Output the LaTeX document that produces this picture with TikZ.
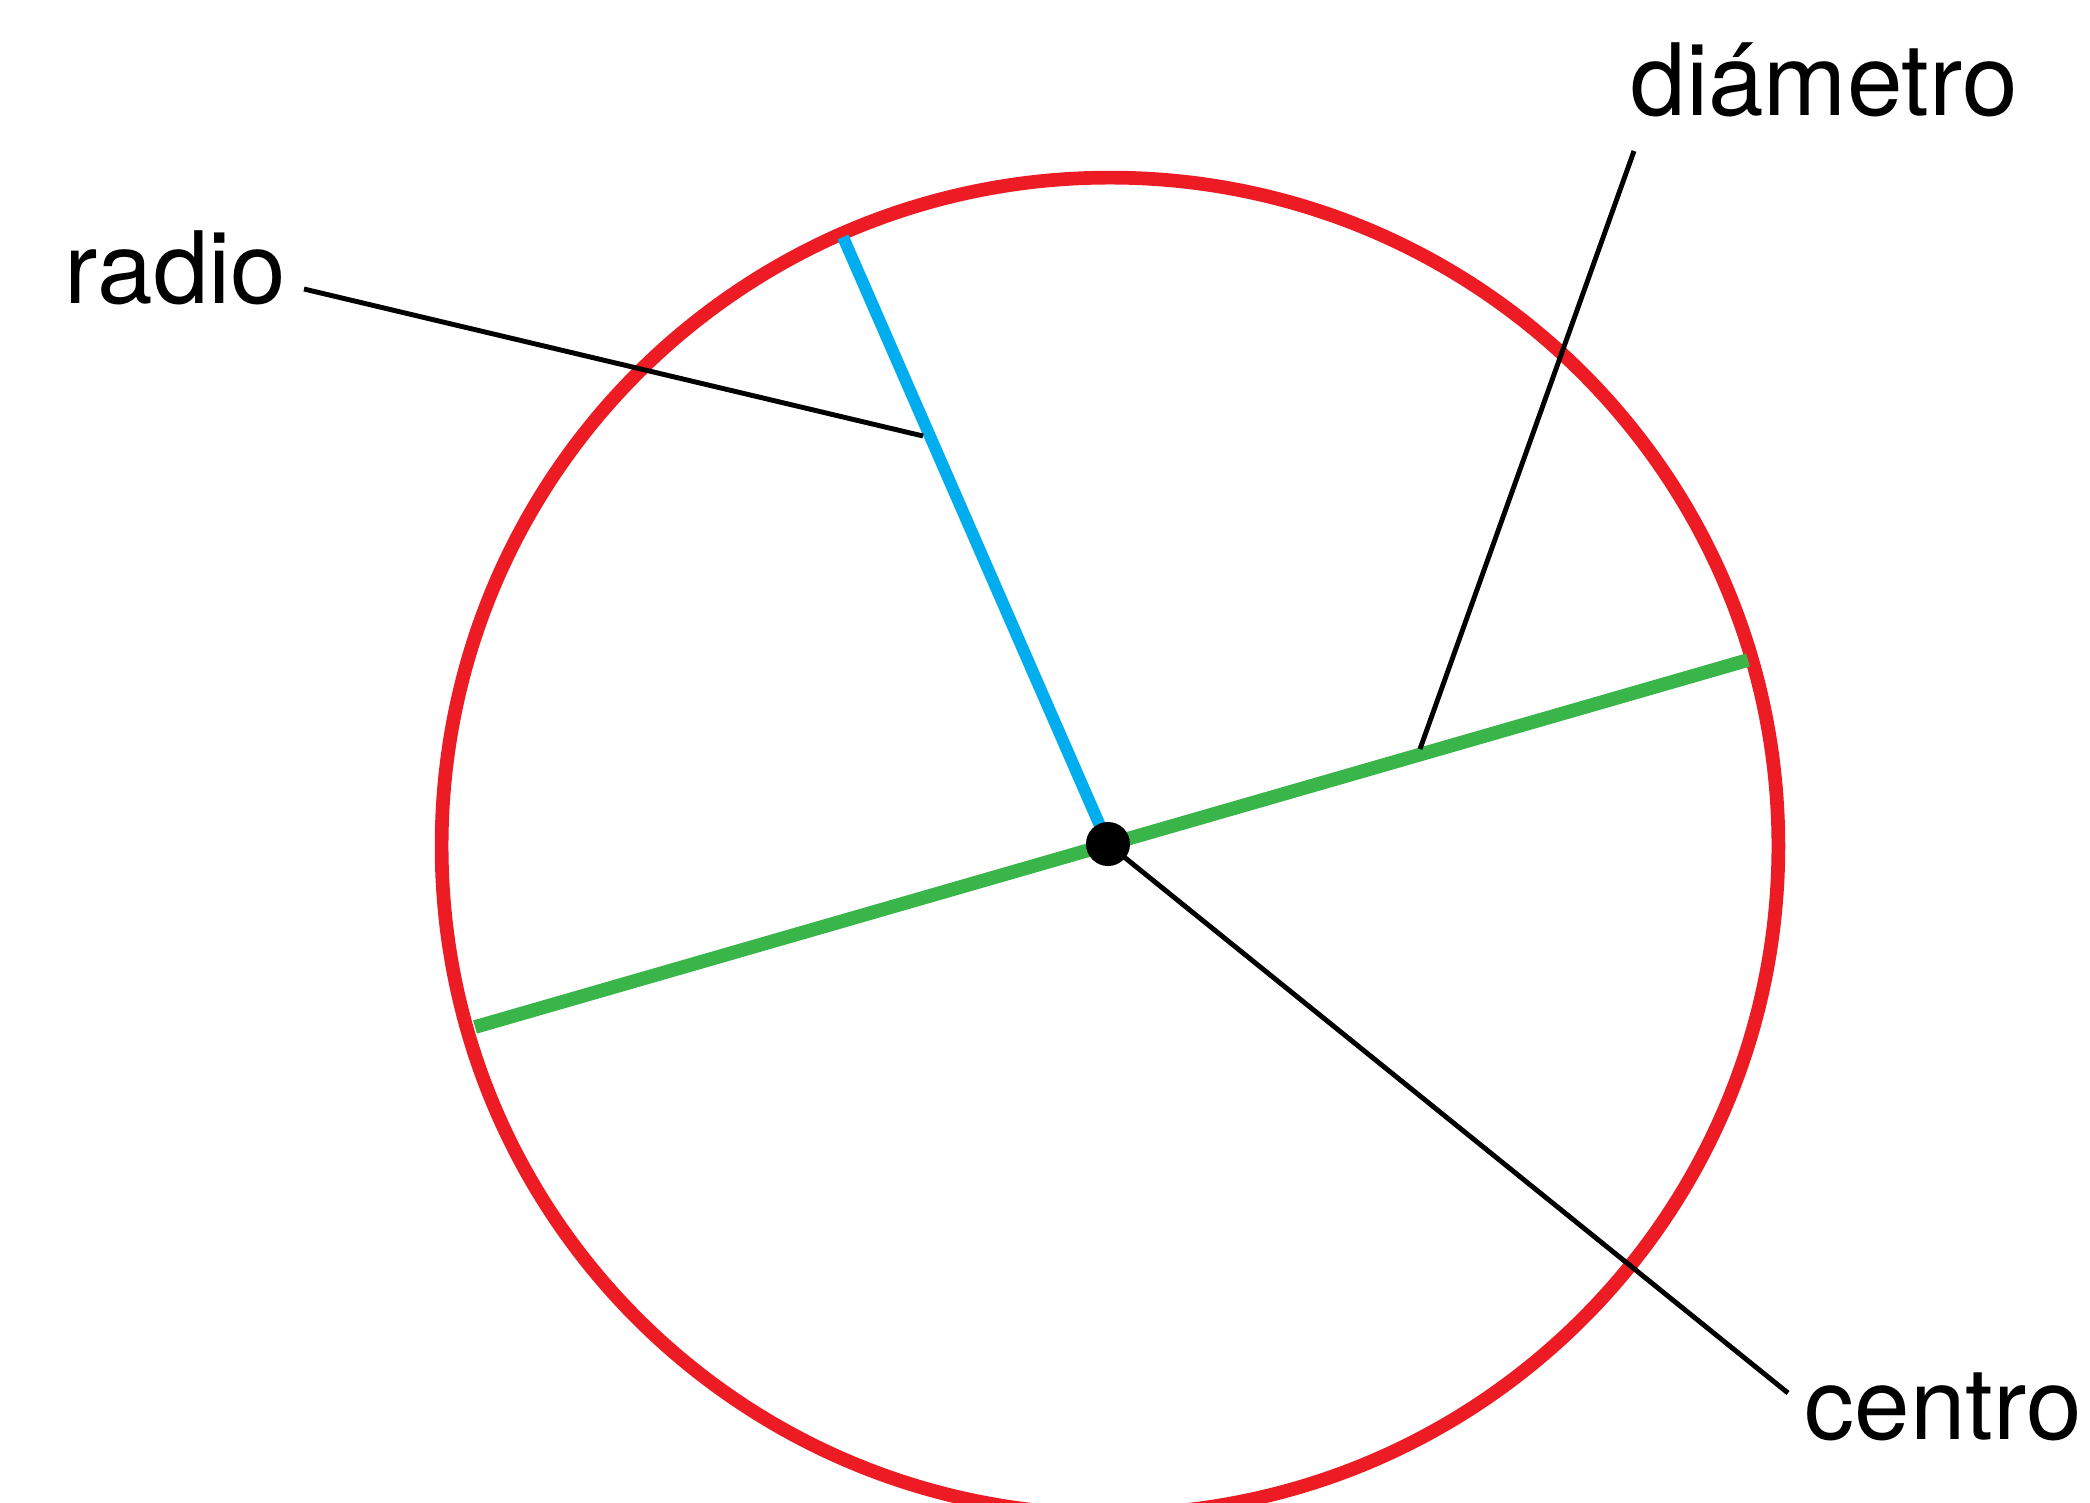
\documentclass[tikz,border=0pt]{standalone}
\usepackage{fontspec}
\setmainfont{TeX Gyre Heros}
\definecolor{circred}{HTML}{ED1C24}
\definecolor{diamgreen}{HTML}{39B54A}
\definecolor{radblue}{HTML}{00AEEF}
\tikzset{
  circline/.style={draw=circred, line width=3.9pt},
  diamline/.style={draw=diamgreen, line width=3.9pt},
  radline/.style={draw=radblue, line width=3.4pt},
  leader/.style={draw=black, line width=1.4pt},
  lbl/.style={inner sep=0pt, anchor=base west, font=\fontsize{28.4}{34}\selectfont},
  dotnode/.style={circle, fill=black, inner sep=0pt, minimum size=0.44cm}
}
\begin{document}
\begin{tikzpicture}[x=0.01cm, y=-0.01cm]
\useasboundingbox (0,0) rectangle (2090,1502);
\clip (0,0) rectangle (2090,1502);
\coordinate (C) at (1110,846);
\coordinate (O) at (1108,844);
\coordinate (dl) at (475,1027);
\coordinate (dr) at (1748,660);
\coordinate (rt) at (843,237);
% circle
\draw[circline] (C) circle[radius=6.68cm];
% diameter and radius
\draw[diamline] (dl) -- (dr);
\draw[radline] (O) -- (rt);
% labels
\node[lbl] (radio) at (64,303) {radio};
\node[lbl] (diam) at (1630,115) {diámetro};
\node[lbl] (centro) at (1804,1439) {centro};
% leader ends
\coordinate (r1) at (304,289);
\coordinate (r2) at (923,436);
\coordinate (d1) at (1634,151);
\coordinate (d2) at (1420,749);
\coordinate (c2) at (1788,1393);
\draw[leader] (r1) -- (r2);
\draw[leader] (d1) -- (d2);
\draw[leader] (O) -- (c2);
% center dot
\node[dotnode] (ctr) at (O) {};
\end{tikzpicture}
\end{document}
